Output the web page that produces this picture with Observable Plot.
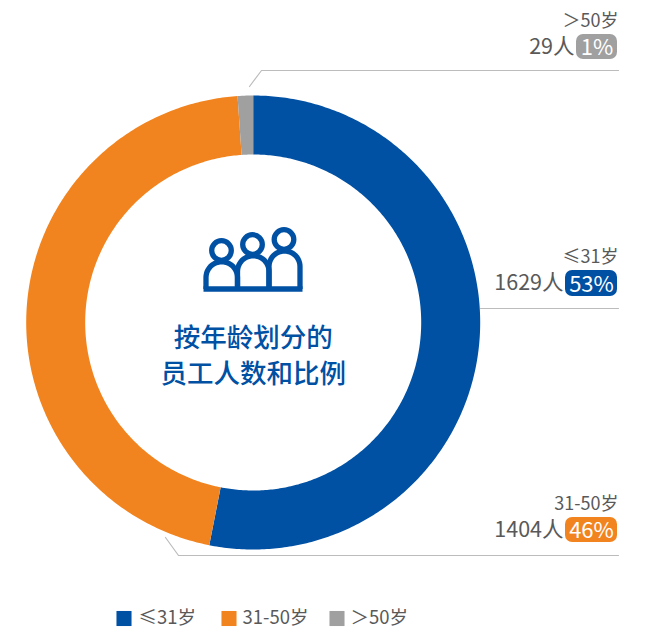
<!DOCTYPE html>
<html lang="zh">
<head>
<meta charset="utf-8">
<script src="https://cdn.jsdelivr.net/npm/d3@7"></script>
<script src="https://cdn.jsdelivr.net/npm/@observablehq/plot@0.6"></script>
<style>
html,body{margin:0;padding:0;background:#fff}
svg{display:block}
</style>
</head>
<body>
<div id="chart"></div>
<script>
// Data
const categories = ["≤31岁", "31-50岁", "＞50岁"];
const headcounts = [1629, 1404, 29];
const percents = [53, 46, 1];
const sliceShares = [53.1, 45.8, 1.1]; // slice sizes
const colors = ["#0050a3", "#f2841f", "#a0a0a0"];
const titleLines = ["按年龄划分的", "员工人数和比例"];

// Layout (in page pixels: x and y scales are identity)
const W = 645, H = 633;
const cx = 252.7, cy = 322, R = 227, r = 168;
const rowOf = {
  "≤31岁": {bx1: 565, bx2: 617, by1: 270, by2: 296, nameY: 257, countY: 283, leader: [[480, 308], [618, 308]]},
  "31-50岁": {bx1: 565, bx2: 617, by1: 517, by2: 542, nameY: 503.5, countY: 530, leader: [[165, 537], [178, 555], [618, 555]]},
  "＞50岁": {bx1: 576, bx2: 617, by1: 34, by2: 59, nameY: 20.5, countY: 47, leader: [[249, 86], [261, 70], [618, 70]]}
};
const legendX = {"≤31岁": [116, 138], "31-50岁": [221, 242], "＞50岁": [329, 350]};
const legendY = 618;

// Slices
const total = d3.sum(sliceShares);
let acc = 0;
const ring = [];
categories.forEach((c, i) => {
  const a0 = acc / total * 2 * Math.PI;
  acc += sliceShares[i];
  const a1 = acc / total * 2 * Math.PI;
  const n = Math.max(4, Math.ceil((a1 - a0) * 90));
  const t = d3.range(n + 1).map(k => a0 + (a1 - a0) * k / n);
  for (const a of t) ring.push({cat: c, x: cx + R * Math.sin(a), y: cy - R * Math.cos(a)});
  for (const a of t.slice().reverse()) ring.push({cat: c, x: cx + r * Math.sin(a), y: cy - r * Math.cos(a)});
});

const table = categories.map((c, i) => ({cat: c, count: headcounts[i], pct: percents[i], ...rowOf[c]}));
const leaders = table.flatMap(d => d.leader.map(([x, y]) => ({cat: d.cat, x, y})));

// People icon
const iconColor = "#0050a3";
const arch = (id, x0, x1, yc, yb) => {
  const rad = (x1 - x0) / 2, mid = (x0 + x1) / 2;
  const pts = [{id, x: x0, y: yb}];
  for (let k = 0; k <= 24; k++) {
    const a = Math.PI - Math.PI * k / 24;
    pts.push({id, x: mid + rad * Math.cos(a), y: yc - rad * Math.sin(a)});
  }
  pts.push({id, x: x1, y: yb});
  return pts;
};
const iconBase = 288.5;
const iconLines = [
  ...arch("a", 205.5, 237, 277, iconBase),
  ...arch("b", 237, 268.5, 271, iconBase),
  ...arch("c", 268.5, 299.5, 266, iconBase),
  {id: "base", x: 203, y: iconBase}, {id: "base", x: 302, y: iconBase}
];
const iconHeads = [{x: 221, y: 250}, {x: 252, y: 244}, {x: 283.5, y: 239}];

const font = "'Noto Sans CJK SC', 'Noto Sans', sans-serif";
const textGray = "#595959";

const chart = Plot.plot({
  width: W, height: H,
  margin: 0,
  style: {fontFamily: font, background: "#fff"},
  x: {domain: [0, W], range: [0, W], axis: null},
  y: {domain: [0, H], range: [0, H], axis: null},
  color: {domain: categories, range: colors},
  marks: [
    Plot.line(ring, {x: "x", y: "y", z: "cat", fill: "cat", stroke: "none", curve: "linear-closed"}),
    Plot.line(leaders, {x: "x", y: "y", z: "cat", stroke: "#bcbcbc", strokeWidth: 1.2}),
    // Icon
    Plot.line(iconLines, {x: "x", y: "y", z: "id", stroke: iconColor, strokeWidth: 5.3, strokeLinejoin: "miter", strokeLinecap: "butt"}),
    Plot.dot(iconHeads, {x: "x", y: "y", r: 9.8, stroke: iconColor, strokeWidth: 5.3, fill: "none"}),
    // Centre title
    Plot.text(titleLines, {x: () => cx, y: (d, i) => 338 + i * 36.5, text: d => d, fill: iconColor, fontSize: 26.5, fontWeight: 500, textAnchor: "middle", lineAnchor: "middle"}),
    // Callouts
    Plot.rect(table, {x1: "bx1", x2: "bx2", y1: "by1", y2: "by2", fill: "cat", rx: 7}),
    Plot.text(table, {x: d => (d.bx1 + d.bx2) / 2, y: d => (d.by1 + d.by2) / 2 + 1, text: d => d.pct + "%", fill: "#fff", fontSize: 22, textAnchor: "middle", lineAnchor: "middle"}),
    Plot.text(table, {x: d => d.bx1 - 2, y: "countY", text: d => d.count + "人", fill: textGray, fontSize: 21.5, textAnchor: "end", lineAnchor: "middle"}),
    Plot.text(table, {x: () => 618, y: "nameY", text: "cat", fill: textGray, fontSize: 18, textAnchor: "end", lineAnchor: "middle"}),
    // Legend
    Plot.dot(categories, {x: d => legendX[d][0] + 7.5, y: () => legendY, fill: d => d, symbol: "square", r: 8.5, stroke: "none"}),
    Plot.text(categories, {x: d => legendX[d][1], y: () => legendY, text: d => d, fill: textGray, fontSize: 18.5, textAnchor: "start", lineAnchor: "middle"})
  ]
});
document.getElementById("chart").append(chart);
</script>
</body>
</html>
